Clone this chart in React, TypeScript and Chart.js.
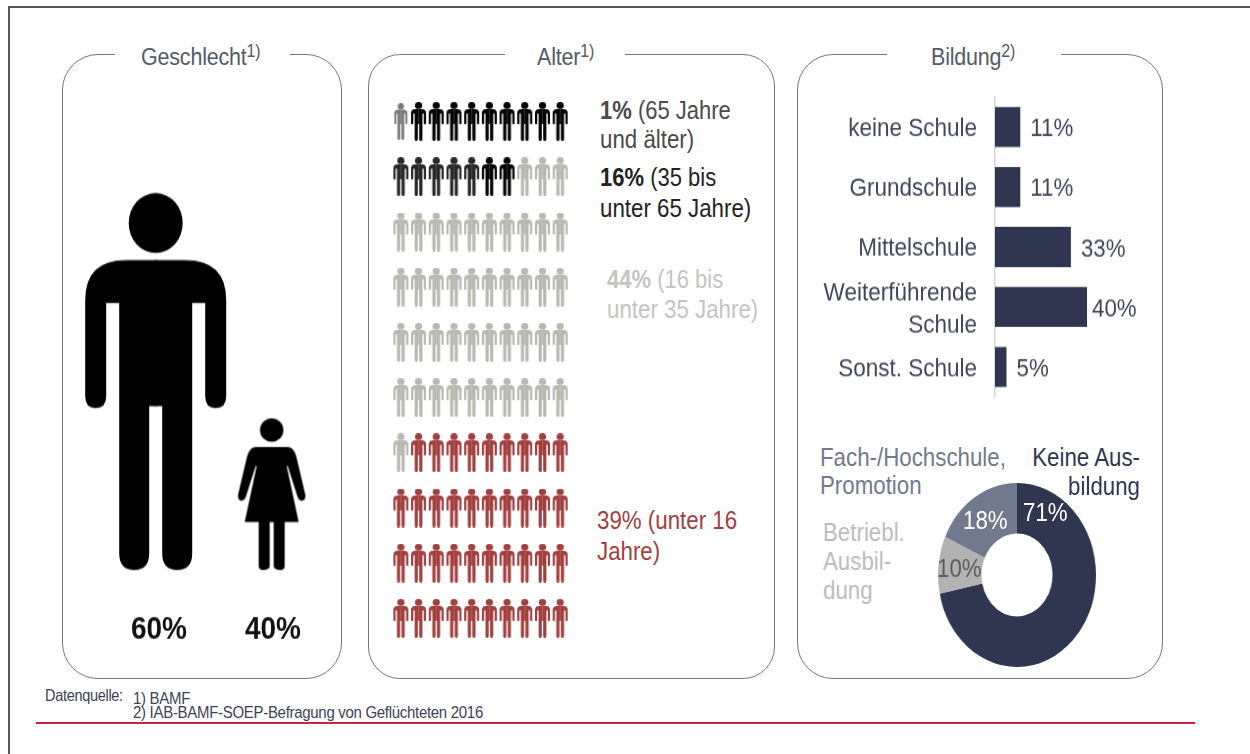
import React, { useEffect, useRef } from "react";
import Chart from "chart.js/auto";

const FONT = '"Liberation Sans", Arial, sans-serif';
const INK = "#41465a";
const NAVY = "#2e3650";
const SLATE = "#717a8d";
const SILVER = "#b2b2b2";
const PALE = "#b9b9b1";
const RED = "#a24040";
// The whole picture is stretched vertically, text included
const STRETCH = 1.15;

// Gender
const genderLabels = ["60%", "40%"];
const genderBase = [0, 0];

// Age pictogram: one string per row, one letter per figure
const ageRows = [
  "DKKKKKKKKK",
  "CCCCCKKPPP",
  "PPPPPPPPPP",
  "PPPPPPPPPP",
  "PPPPPPPPPP",
  "PPPPPPPPPP",
  "PRRRRRRRRR",
  "RRRRRRRRRR",
  "RRRRRRRRRR",
  "RRRRRRRRRR",
];
const ageColours: Record<string, string> = { D: "#7b7b7b", K: "#050505", C: "#2a2728", P: PALE, R: RED };

// Education
const schoolLabels = ["keine Schule", "Grundschule", "Mittelschule", ["Weiterführende", "Schule"], "Sonst. Schule"];
const schoolValues = [11, 11, 33, 40, 5];
const trainingLabels = ["Keine Ausbildung", "Betriebl. Ausbildung", "Fach-/Hochschule, Promotion"];
const trainingValues = [71, 10, 18];
const trainingColours = [NAVY, SILVER, SLATE];

function halfMan(c: CanvasRenderingContext2D) {
  c.beginPath();
  c.moveTo(-1, 67);
  c.lineTo(30, 67);
  c.quadraticCurveTo(70.5, 67, 70.5, 107);
  c.lineTo(70.5, 203);
  c.quadraticCurveTo(70.5, 215, 60, 215);
  c.quadraticCurveTo(49.5, 215, 49.5, 203);
  c.lineTo(49.5, 110);
  c.lineTo(36.5, 110);
  c.lineTo(36.5, 360);
  c.quadraticCurveTo(36.5, 377, 21.5, 377);
  c.quadraticCurveTo(6.5, 377, 6.5, 360);
  c.lineTo(6.5, 213);
  c.lineTo(-1, 213);
  c.closePath();
  c.fill();
}
function halfWoman(c: CanvasRenderingContext2D) {
  c.beginPath();
  c.moveTo(-1, 29);
  c.lineTo(16, 29);
  c.quadraticCurveTo(22, 29, 24.7, 38.7);
  c.lineTo(33.7, 77);
  c.quadraticCurveTo(34, 82.7, 29.7, 82.7);
  c.quadraticCurveTo(26.5, 82, 25.3, 77);
  c.lineTo(16, 48);
  c.lineTo(15, 48);
  c.lineTo(27, 104);
  c.lineTo(13, 104);
  c.lineTo(13, 148);
  c.quadraticCurveTo(13, 152, 9, 152);
  c.quadraticCurveTo(2, 152, 2, 148);
  c.lineTo(2, 104);
  c.lineTo(-1, 104);
  c.closePath();
  c.fill();
}
function icon(kind: "man" | "woman", w: number, h: number, colour: string, bottomAnchored = false, dx = 0, smallHead = false) {
  const baseW = kind === "man" ? 141 : 68;
  const baseH = kind === "man" ? 377 : 152;
  const cv = document.createElement("canvas");
  const ch = Math.ceil(h);
  cv.width = Math.ceil(w + 2 * Math.abs(dx) + 2);
  cv.height = bottomAnchored ? ch * 2 : ch;
  const c = cv.getContext("2d")!;
  c.fillStyle = colour;
  c.translate(cv.width / 2 + dx, ch - h);
  c.scale(w / baseW, h / baseH);
  c.beginPath();
  if (kind === "man") {
    if (smallHead) c.ellipse(0, 33, 34, 33, 0, 0, Math.PI * 2);
    else c.ellipse(0, 30, 27, 30, 0, 0, Math.PI * 2);
  } else c.ellipse(0, 12, 11.7, 11.7, 0, 0, Math.PI * 2);
  c.fill();
  const half = kind === "man" ? halfMan : halfWoman;
  half(c);
  c.scale(-1, 1);
  half(c);
  return cv;
}

const base = { responsive: false, animation: false as const, plugins: { legend: { display: false }, tooltip: { enabled: false } } };

function Panel({ x, w, gapL, gapR, r }: { x: number; w: number; gapL: number; gapR: number; r: number }) {
  return (
    <>
      <div style={{ position: "absolute", left: x, top: 54, width: w, height: 625, border: "1.5px solid #777", borderRadius: r, boxSizing: "border-box" }} />
      <div style={{ position: "absolute", left: gapL, top: 46, width: gapR - gapL, height: 16, background: "#fff" }} />
    </>
  );
}
function Txt({ x, y, children, color = INK, size = 22.3, right, weight, ls }: any) {
  const h = 30;
  const pos: any = right !== undefined ? { right: 1250 - right } : { left: x };
  return (
    <div style={{ position: "absolute", ...pos, top: y - h / 2, height: h, lineHeight: h + "px", whiteSpace: "nowrap", fontFamily: FONT, fontSize: size, color, fontWeight: weight, letterSpacing: ls, transform: `scaleY(${STRETCH})`, transformOrigin: "center" }}>
      {children}
    </div>
  );
}
function Title({ x, text, note }: { x: number; text: string; note: string }) {
  return (
    <Txt x={x} y={57} color="#555a66" size={21.5} ls={-0.2}>
      {text}
      <span style={{ fontSize: 16, position: "relative", top: -7 }}>{note}</span>
    </Txt>
  );
}

export default function App() {
  const gender = useRef<HTMLCanvasElement>(null);
  const age = useRef<HTMLCanvasElement>(null);
  const school = useRef<HTMLCanvasElement>(null);
  const training = useRef<HTMLCanvasElement>(null);

  useEffect(() => {
    const charts: Chart[] = [];
    const genderIcons = [icon("man", 141, 377 / STRETCH, "#000", true, -3.3), icon("woman", 68, 152 / STRETCH, "#000", true, -1.3)];
    charts.push(
      new Chart(gender.current!, {
        type: "line",
        data: { labels: genderLabels, datasets: [{ data: genderBase, showLine: false, clip: false, pointStyle: (ctx: any) => genderIcons[ctx.dataIndex] } as any] },
        options: {
          ...base,
          layout: { autoPadding: false, padding: { left: 40, right: 12 } },
          scales: {
            y: { display: false, min: 0, max: 1 },
            x: {
              offset: true,
              border: { display: false },
              grid: { display: false, drawTicks: false },
              ticks: { padding: 35, color: "#111", maxRotation: 0, font: { family: "Liberation Sans", size: 28, weight: "bold" } },
              afterFit: (s: any) => { s.height = 418 - 390 / STRETCH; s.paddingLeft = 0; s.paddingRight = 0; },
            },
          },
        } as any,
      })
    );

    const keys = Object.keys(ageColours);
    const sets = keys.map((k) => {
      const pts: { x: number; y: number }[] = [];
      ageRows.forEach((row, r) => row.split("").forEach((ch, i) => { if (ch === k) pts.push({ x: i + 1, y: r + 1 }); }));
      const img = k === "D" ? icon("man", 13, 37, ageColours[k], false, 0, true) : icon("man", 15, 39, ageColours[k], false, 0, true);
      return { data: pts, showLine: false, clip: false, pointStyle: img } as any;
    });
    charts.push(
      new Chart(age.current!, {
        type: "scatter",
        data: { datasets: sets },
        options: {
          ...base,
          layout: { autoPadding: false, padding: 0 },
          scales: {
            x: { display: false, min: 0.5, max: 10.5 },
            y: { display: false, min: 0.5, max: 10.5, reverse: true },
          },
        } as any,
      })
    );

    charts.push(
      new Chart(school.current!, {
        type: "bar",
        data: { labels: schoolLabels as any, datasets: [{ data: schoolValues, backgroundColor: NAVY, categoryPercentage: 1, barPercentage: 0.667 }] },
        options: {
          ...base,
          indexAxis: "y",
          layout: { autoPadding: false, padding: { top: 7 / STRETCH, bottom: 280 - 307 / STRETCH, right: 50 } },
          scales: {
            x: { display: false, min: 0, max: 50 },
            y: {
              border: { display: true, color: "#d6d6d6", width: 1.5 },
              grid: { display: false, drawTicks: false },
              ticks: { padding: 18, color: INK, autoSkip: false, font: { family: "Liberation Sans", size: 22.5, lineHeight: 1.24 } },
              afterFit: (s: any) => { s.width = 185; s.paddingTop = 0; s.paddingBottom = 0; },
            },
          },
        } as any,
        plugins: [
          {
            id: "nudgeTicks",
            beforeDraw(ch: any) {
              ch.scales.y.getLabelItems().forEach((it: any) => { it.textOffset += 1.7; });
            },
          },
          {
            id: "valueLabels",
            afterDatasetsDraw(ch: any) {
              const c = ch.ctx;
              c.save();
              c.font = '22.3px "Liberation Sans"';
              c.fillStyle = INK;
              c.textBaseline = "middle";
              ch.getDatasetMeta(0).data.forEach((el: any, i: number) => {
                const v = schoolValues[i];
                c.fillText(v + "%", el.x + (v >= 40 ? 5 : 10), el.y + 2);
              });
              c.restore();
            },
          },
        ],
      })
    );

    charts.push(
      new Chart(training.current!, {
        type: "doughnut",
        data: { labels: trainingLabels, datasets: [{ data: trainingValues, backgroundColor: trainingColours, borderWidth: 0 }] },
        options: { ...base, cutout: "45%", layout: { padding: 0 } } as any,
      })
    );
    return () => charts.forEach((c) => c.destroy());
  }, []);

  const abs = (l: number, t: number): React.CSSProperties => ({ position: "absolute", left: l, top: t, display: "block" });
  const stretched: React.CSSProperties = { transform: `scaleY(${STRETCH})`, transformOrigin: "top" };

  return (
    <div style={{ position: "absolute", left: 0, top: 0, width: 1250, height: 754, overflow: "hidden", background: "#fff", filter: "blur(0.6px)" }}>
      <div style={{ position: "absolute", left: 8, top: 6, width: 1242, height: 1.5, background: "#555" }} />
      <div style={{ position: "absolute", left: 8, top: 6, width: 1.5, height: 748, background: "#555" }} />

      <Panel x={62} w={280} gapL={115} gapR={290} r={36} />
      <Panel x={368} w={407} gapL={505} gapR={625} r={32} />
      <Panel x={797} w={366} gapL={887} gapR={1061} r={36} />
      <Title x={141} text="Geschlecht" note="1)" />
      <Title x={537} text="Alter" note="1)" />
      <Title x={931} text="Bildung" note="2)" />

      <canvas ref={gender} width={280} height={418} style={{ ...abs(62, 180), ...stretched }} />
      <canvas ref={age} width={177} height={552} style={abs(392, 94)} />
      <canvas ref={school} width={350} height={280} style={{ ...abs(810, 90), ...stretched }} />
      <canvas ref={training} width={184} height={184} style={{ ...abs(925, 483), transform: `scaleX(${158 / 184})` }} />

      <Txt x={600} y={111} size={22} color="#4a4a4a"><b>1%</b> (65 Jahre</Txt>
      <Txt x={600} y={140} color="#4a4a4a">und älter)</Txt>
      <Txt x={600} y={178} size={22} color="#222"><b>16%</b> (35 bis</Txt>
      <Txt x={600} y={209} color="#222">unter 65 Jahre)</Txt>
      <Txt x={607} y={280} size={22} color="#c4c4c0"><b>44%</b> (16 bis</Txt>
      <Txt x={607} y={310} color="#c4c4c0">unter 35 Jahre)</Txt>
      <Txt x={597} y={521} color={RED}>39% (unter 16</Txt>
      <Txt x={597} y={552} color={RED}>Jahre)</Txt>

      <Txt x={820} y={458} color={SLATE}>Fach-/Hochschule,</Txt>
      <Txt x={820} y={486} color={SLATE}>Promotion</Txt>
      <Txt right={1140} y={458} color={NAVY}>Keine Aus-</Txt>
      <Txt right={1140} y={487} color={NAVY}>bildung</Txt>
      <Txt x={823} y={533} color="#bdbdbd">Betriebl.</Txt>
      <Txt x={823} y={562} color="#bdbdbd">Ausbil-</Txt>
      <Txt x={823} y={591} color="#bdbdbd">dung</Txt>
      <Txt x={1023} y={513} color="#fff">71%</Txt>
      <Txt x={963} y={521} color="#fff">18%</Txt>
      <Txt x={937} y={569} color="#5c5c5c">10%</Txt>

      <Txt x={45} y={695} size={14.5} ls={-0.3} color="#3d4356">Datenquelle:</Txt>
      <Txt x={133} y={698} size={15} ls={-0.3} color="#3d4356">1) BAMF</Txt>
      <Txt x={133} y={712} size={15} ls={-0.3} color="#3d4356">2) IAB-BAMF-SOEP-Befragung von Geflüchteten 2016</Txt>
      <div style={{ position: "absolute", left: 36, top: 722, width: 1159, height: 1.5, background: "#c8243c" }} />
    </div>
  );
}
